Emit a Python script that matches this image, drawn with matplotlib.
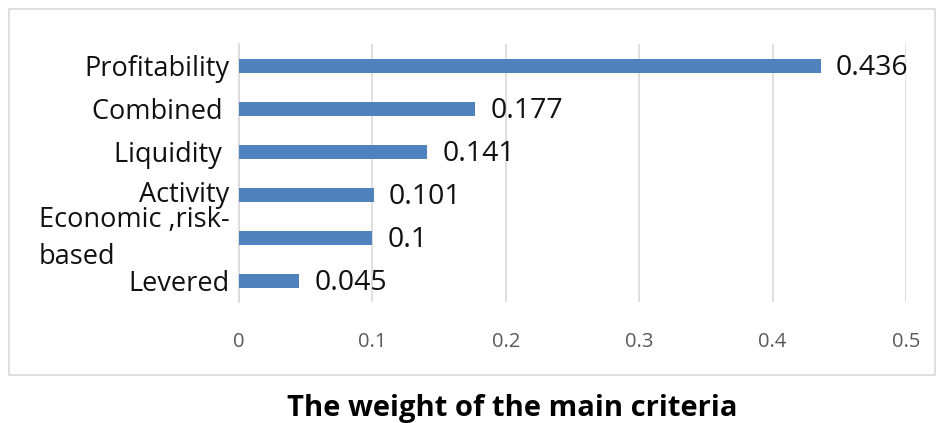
import matplotlib
matplotlib.use("Agg")
import matplotlib.pyplot as plt
from matplotlib.patches import Rectangle
from matplotlib.transforms import ScaledTranslation

# data
categories = ["Profitability", "Combined ", "Liquidity ", "Activity", "Economic ,risk-\nbased", "Levered"]
weights = [0.436, 0.177, 0.141, 0.101, 0.1, 0.045]
value_labels = ["0.436", "0.177", "0.141", "0.101", "0.1", "0.045"]
x_ticks = [0, 0.1, 0.2, 0.3, 0.4, 0.5]
x_tick_labels = ["0", "0.1", "0.2", "0.3", "0.4", "0.5"]
title = "The weight of the main criteria"

plt.rcParams['font.family'] = ['Open Sans', 'DejaVu Sans']

fig = plt.figure(figsize=(9.44, 4.23), dpi=100)
ax = fig.add_axes([0.2532, 0.2849, 0.7066, 0.61])

# outer frame around the chart area
fig.patches.append(Rectangle((9 / 944, 1 - 375 / 423), 926 / 944, 366 / 423,
                             transform=fig.transFigure, fill=False,
                             edgecolor="#d9d9d9", linewidth=1.2))

ypos = list(range(len(categories)))
ax.barh(ypos, weights, height=0.33, color="#4F81BD", zorder=3)

for y, w, lab in zip(ypos, weights, value_labels):
    ax.annotate(lab, xy=(w, y), xytext=(11, -1.5), textcoords="offset points",
                va="center", ha="left", fontsize=20.5, color="#111111")

ax.set_ylim(len(categories) - 0.5, -0.5)
ax.set_xlim(0, 0.5)
ax.set_yticks(ypos)
ax.set_yticklabels(categories, fontsize=19.5, color="#111111",
                   multialignment="left", linespacing=1.4)
ax.set_xticks(x_ticks)
ax.set_xticklabels(x_tick_labels, fontsize=14.5, color="#595959")
ax.tick_params(axis="x", length=0, pad=21)
ax.tick_params(axis="y", length=0, pad=7)

# nudge the crowded labels upward a little, as in the original
shift_px = {3: 3, 4: 7}
for i, lbl in enumerate(ax.get_yticklabels()):
    if i in shift_px:
        lbl.set_transform(lbl.get_transform() +
                          ScaledTranslation(0, shift_px[i] / 100, fig.dpi_scale_trans))

ax.grid(axis="x", color="#d9d9d9", linewidth=1.2, zorder=0)
for s in ["top", "right", "bottom"]:
    ax.spines[s].set_visible(False)
ax.spines["left"].set_color("#d9d9d9")
ax.spines["left"].set_linewidth(1.2)

fig.text(512 / 944, 1 - 408 / 423, title, ha="center", va="center",
         fontsize=21, fontweight="bold", color="black")

fig.savefig("out.png", dpi=100)
plt.close(fig)
